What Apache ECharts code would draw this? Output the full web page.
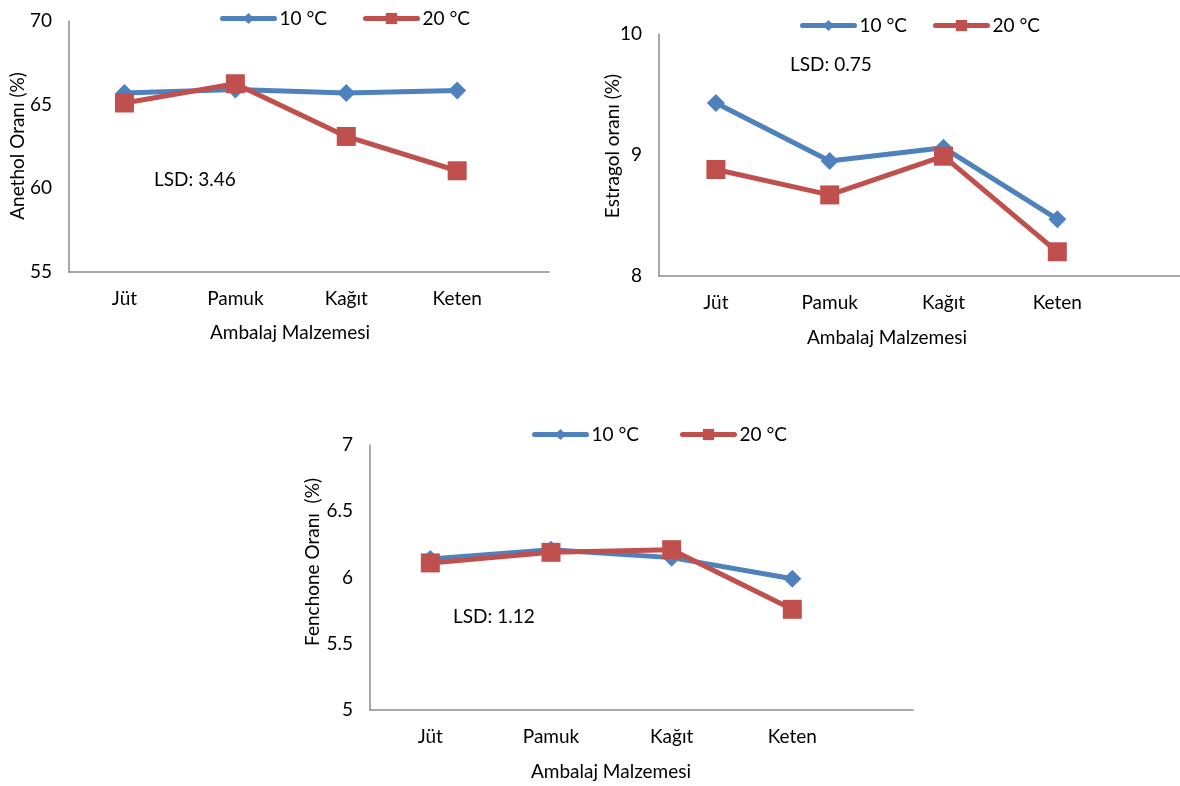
<!DOCTYPE html>
<html>
<head>
<meta charset="utf-8">
<script src="https://cdn.jsdelivr.net/npm/echarts@6/dist/echarts.min.js"></script>
<style>
  html, body { margin: 0; padding: 0; background: #fff; }
  #chart { width: 1180px; height: 786px; }
</style>
</head>
<body>
<div id="chart"></div>
<script>
// Packaging materials and storage temperatures
const categories = ['Jüt', 'Pamuk', 'Kağıt', 'Keten'];
const seriesNames = ['10 °C', '20 °C'];

// Anethol ratio (%)
const anethol10 = [65.7, 65.9, 65.7, 65.85];
const anethol20 = [65.1, 66.25, 63.1, 61.05];
// Estragol ratio (%)
const estragol10 = [9.43, 8.95, 9.06, 8.47];
const estragol20 = [8.88, 8.67, 8.99, 8.20];
// Fenchone ratio (%)
const fenchone10 = [6.14, 6.21, 6.15, 5.99];
const fenchone20 = [6.11, 6.19, 6.21, 5.76];

// Y axis ranges [min, max, step]
const anetholAxis = [55, 70, 5];
const estragolAxis = [8, 10, 1];
const fenchoneAxis = [5, 7, 0.5];

// Texts
const xAxisTitle = 'Ambalaj Malzemesi';
const yTitles = ['Anethol Oranı (%)', 'Estragol oranı (%)', 'Fenchone Oranı  (%)'];
const lsdTexts = ['LSD: 3.46', 'LSD: 0.75', 'LSD: 1.12'];

const BLUE = '#4F81BD';
const RED = '#C0504D';
const AXIS = '#8c8c8c';
const FONT = 'Lato';
const FS = 19;

// Panel layout
const panels = [
  { grid: { left: 69, top: 21, width: 480, height: 251 }, xMax: 3.828, axis: anetholAxis,
    s10: anethol10, s20: anethol20,
    yName: [18, 146], xName: [290, 333], lsd: [154, 180], legend: [220, 363, 9] },
  { grid: { left: 659, top: 34, width: 521, height: 242 }, xMax: 4.078, axis: estragolAxis,
    s10: estragol10, s20: estragol20,
    yName: [613, 146], xName: [887, 338], lsd: [790, 65], legend: [800, 933, 16] },
  { grid: { left: 370, top: 445, width: 543, height: 265 }, xMax: 4.0, axis: fenchoneAxis,
    s10: fenchone10, s20: fenchone20,
    yName: [313, 562], xName: [611, 772], lsd: [453, 617], legend: [532, 680, 425] }
];

const catIdx = categories.map((_, i) => i);
const toPoints = arr => arr.map((v, i) => [i, v]);

const option = {
  animation: false,
  backgroundColor: '#fff',
  textStyle: { fontFamily: FONT, color: '#000' },
  grid: [], xAxis: [], yAxis: [], series: [], legend: [], graphic: []
};

panels.forEach((p, k) => {
  option.grid.push(Object.assign({ containLabel: false }, p.grid));
  option.xAxis.push({
    type: 'value', gridIndex: k, min: -0.5, max: p.xMax,
    axisLine: { show: true, onZero: false, lineStyle: { color: AXIS, width: 1.5 } },
    axisTick: { show: false },
    splitLine: { show: false },
    axisLabel: {
      customValues: catIdx,
      formatter: v => categories[Math.round(v)],
      fontSize: FS, fontFamily: FONT, color: '#000', margin: 17
    }
  });
  option.yAxis.push({
    type: 'value', gridIndex: k, min: p.axis[0], max: p.axis[1], interval: p.axis[2],
    axisLine: { show: true, onZero: false, lineStyle: { color: AXIS, width: 1.5 } },
    axisTick: { show: false },
    splitLine: { show: false },
    axisLabel: { fontSize: FS, fontFamily: FONT, color: '#000', margin: 17 }
  });
  [[p.s10, BLUE, 'diamond', 18], [p.s20, RED, 'rect', 19]].forEach((d, j) => {
    option.series.push({
      name: seriesNames[j], type: 'line', xAxisIndex: k, yAxisIndex: k,
      data: toPoints(d[0]),
      symbol: d[2], symbolSize: d[3],
      lineStyle: { color: d[1], width: 5 },
      itemStyle: { color: d[1] },
      z: 2 + j
    });
  });
  seriesNames.forEach((n, j) => {
    option.legend.push({
      data: [n], left: p.legend[j], top: p.legend[2], padding: 0,
      itemWidth: 52, itemHeight: 14, itemGap: 5,
      lineStyle: { width: 5, cap: 'round' },
      textStyle: { fontSize: FS, fontFamily: FONT, color: '#000' },
      selectedMode: false
    });
  });
  option.graphic.push(
    { type: 'text', x: p.yName[0], y: p.yName[1], rotation: Math.PI / 2,
      style: { text: yTitles[k], fontSize: FS, fontFamily: FONT, fill: '#000',
               textAlign: 'center', textVerticalAlign: 'middle' } },
    { type: 'text', x: p.xName[0], y: p.xName[1],
      style: { text: xAxisTitle, fontSize: FS, fontFamily: FONT, fill: '#000',
               textAlign: 'center', textVerticalAlign: 'middle' } },
    { type: 'text', x: p.lsd[0], y: p.lsd[1],
      style: { text: lsdTexts[k], fontSize: FS, fontFamily: FONT, fill: '#000',
               textAlign: 'left', textVerticalAlign: 'middle' } }
  );
});

const chart = echarts.init(document.getElementById('chart'), null, { renderer: 'canvas' });
chart.setOption(option);
</script>
</body>
</html>
